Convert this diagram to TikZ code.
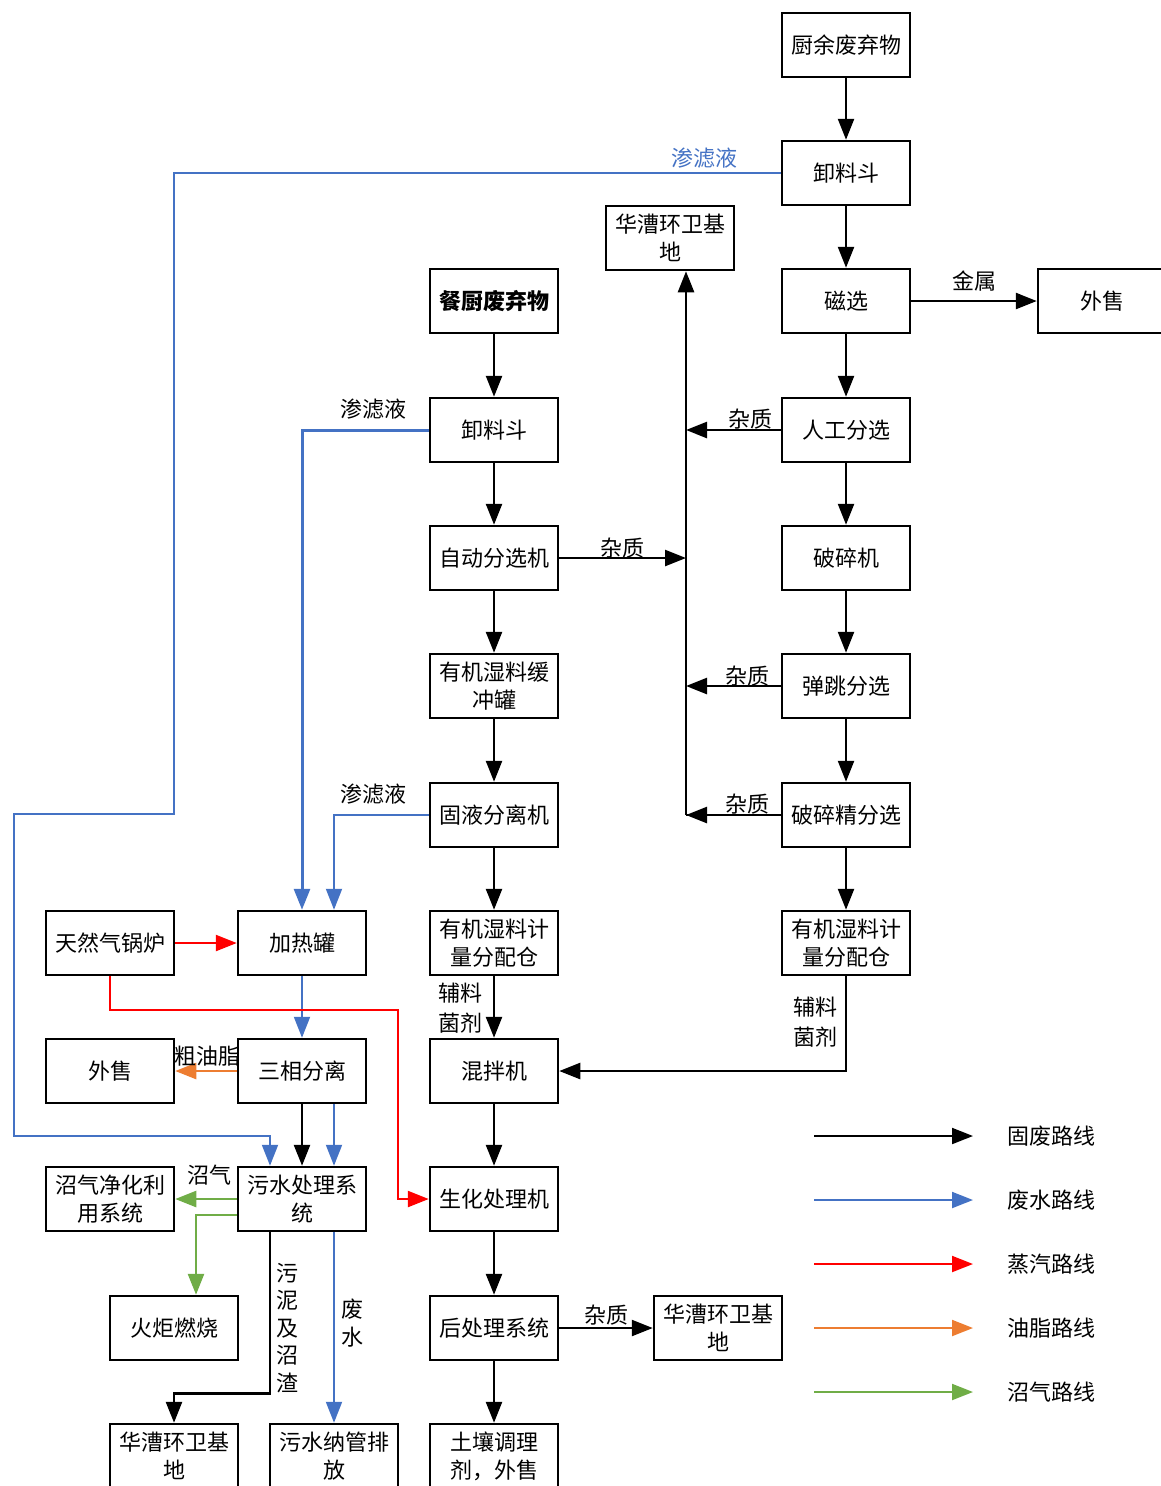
\documentclass[tikz,border=0pt]{standalone}
\usepackage{fontspec}
\setmainfont{Noto Sans CJK SC}
\usetikzlibrary{arrows.meta}
\definecolor{cblue}{HTML}{4472C4}
\definecolor{cred}{HTML}{FF0000}
\definecolor{corange}{HTML}{ED7D31}
\definecolor{cgreen}{HTML}{70AD47}
\begin{document}
\begin{tikzpicture}[x=1pt,y=-1pt,
  box/.style={draw, line width=2.5pt, minimum width=128pt, minimum height=64pt, inner sep=0pt, align=center, font=\fontsize{22}{28}\selectfont},
  lab/.style={inner sep=0pt, align=center, font=\fontsize{22}{28}\selectfont},
  fl/.style={-{Triangle[length=21pt,width=16pt]}, line width=2.5pt},
  wl/.style={fl, draw=cblue, line width=2pt},
  rl/.style={fl, draw=cred, line width=2.5pt},
  ol/.style={fl, draw=corange, line width=2.5pt},
  gl/.style={fl, draw=cgreen, line width=2.5pt}]
\useasboundingbox (0,0) rectangle (1161,1486);
% right column
\node[box] (cy) at (846,45) {厨余废弃物};
\node[box] (xl1) at (846,173) {卸料斗};
\node[box] (cx) at (846,301) {磁选};
\node[box] (rg) at (846,430) {人工分选};
\node[box] (psj) at (846,558) {破碎机};
\node[box] (tt) at (846,686) {弹跳分选};
\node[box] (psj2) at (846,815) {破碎精分选};
\node[box] (jl2) at (846,943) {有机湿料计\\量分配仓};
\node[box] (ws1) at (1102,301) {外售};
\node[box] (hc1) at (670,238) {华漕环卫基\\地};
% middle column
\node[box, font=\fontsize{22}{28}\selectfont\bfseries] (cc) at (494,301) {餐厨废弃物};
\node[box] (xl2) at (494,430) {卸料斗};
\node[box] (zd) at (494,558) {自动分选机};
\node[box] (hcg) at (494,686) {有机湿料缓\\冲罐};
\node[box] (gy) at (494,815) {固液分离机};
\node[box] (jl1) at (494,943) {有机湿料计\\量分配仓};
\node[box] (hb) at (494,1071) {混拌机};
\node[box] (sh) at (494,1199) {生化处理机};
\node[box] (hcl) at (494,1328) {后处理系统};
\node[box] (tr) at (494,1456) {土壤调理\\剂，外售};
\node[box] (hc2) at (718,1328) {华漕环卫基\\地};
% left columns
\node[box] (jr) at (302,943) {加热罐};
\node[box] (sx) at (302,1071) {三相分离};
\node[box] (wsc) at (302,1199) {污水处理系\\统};
\node[box] (tq) at (110,943) {天然气锅炉};
\node[box] (ws2) at (110,1071) {外售};
\node[box] (zq) at (110,1199) {沼气净化利\\用系统};
\node[box] (hj) at (174,1328) {火炬燃烧};
\node[box] (hc3) at (174,1456) {华漕环卫基\\地};
\node[box] (ng) at (334,1456) {污水纳管排\\放};

% right column flow
\draw[fl] (cy.south) -- (xl1.north);
\draw[fl] (xl1.south) -- (cx.north);
\draw[fl] (cx.south) -- (rg.north);
\draw[fl] (rg.south) -- (psj.north);
\draw[fl] (psj.south) -- (tt.north);
\draw[fl] (tt.south) -- (psj2.north);
\draw[fl] (psj2.south) -- (jl2.north);
\draw[fl] (cx.east) -- (ws1.west) node[lab, pos=0.5, above=8pt] {金属};
% impurity collector
\coordinate (vt) at (686,815);
\draw[line width=2.5pt] (psj2.west) -- (vt);
\draw[fl] (vt) -- (vt |- hc1.south);
\draw[fl] (rg.west) -- (rg.west -| vt);
\draw[fl] (tt.west) -- (tt.west -| vt);
\draw[fl] (psj2.west) -- (psj2.west -| vt);
\draw[fl] (zd.east) -- (zd.east -| vt);
\node[lab] (z1) at (750,419) {杂质};
\node[lab] (z2) at (747,676) {杂质};
\node[lab] (z3) at (747,804) {杂质};
\node[lab] (z4) at (622,548) {杂质};
% middle column flow
\draw[fl] (cc.south) -- (xl2.north);
\draw[fl] (xl2.south) -- (zd.north);
\draw[fl] (zd.south) -- (hcg.north);
\draw[fl] (hcg.south) -- (gy.north);
\draw[fl] (gy.south) -- (jl1.north);
\draw[fl] (jl1.south) -- (hb.north);
\draw[fl] (hb.south) -- (sh.north);
\draw[fl] (sh.south) -- (hcl.north);
\draw[fl] (hcl.south) -- (tr.north);
\draw[fl] (hcl.east) -- (hc2.west);
\node[lab] (z5) at (606,1315) {杂质};
\draw[fl] (jl2.south) |- (hb.east);
\node[lab, font=\fontsize{22}{30}\selectfont] (fj1) at (460,1008) {辅料\\菌剂};
\node[lab, font=\fontsize{22}{30}\selectfont] (fj2) at (815,1022) {辅料\\菌剂};
% leachate (blue)
\draw[wl] (xl1.west) -- (174,173) -- (174,814) -- (14,814) -- (14,1136) -- (270,1136) -- ([xshift=-32pt]wsc.north);
\node[lab, text=cblue] (sl1) at (704,158) {渗滤液};
\draw[wl, line width=3pt] (xl2.west) -| (jr.north);
\node[lab] (sl2) at (373,409) {渗滤液};
\draw[wl] (gy.west) -| ([xshift=32pt]jr.north);
\node[lab] (sl3) at (373,794) {渗滤液};
\draw[wl] (jr.south) -- (sx.north);
% steam
\draw[rl] (tq.east) -- (jr.west);
\draw[rl] (tq.south) -- (110,1010) -- (398,1010) |- (sh.west);
% oil
\draw[ol] (sx.west) -- (ws2.east);
\node[lab] (cy2) at (207,1056) {粗油脂};
% separation to sewage
\draw[fl] (sx.south) -- (wsc.north);
\draw[wl] ([xshift=32pt]sx.south) -- ([xshift=32pt]wsc.north);
% biogas
\draw[gl] (wsc.west) -- (zq.east);
\node[lab] (zqlab) at (209,1175) {沼气};
\draw[gl] ([yshift=-16pt]wsc.west) -| ([xshift=22pt]hj.north);
% sludge / wastewater
\draw[fl] ([xshift=-32pt]wsc.south) -- ++(0,161) -| (hc3.north);
\node[lab, font=\fontsize{22}{27.5}\selectfont] (wn) at (287,1328) {污\\泥\\及\\沼\\渣};
\draw[wl] ([xshift=32pt]wsc.south) -- (ng.north);
\node[lab] (fs) at (352,1323) {废\\水};
% legend
\coordinate (la1) at (814,1136); \coordinate (lb1) at (973,1136);
\coordinate (la2) at (814,1200); \coordinate (lb2) at (973,1200);
\coordinate (la3) at (814,1264); \coordinate (lb3) at (973,1264);
\coordinate (la4) at (814,1328); \coordinate (lb4) at (973,1328);
\coordinate (la5) at (814,1392); \coordinate (lb5) at (973,1392);
\draw[fl, line width=2pt] (la1) -- (lb1);
\draw[wl] (la2) -- (lb2);
\draw[rl, line width=2pt] (la3) -- (lb3);
\draw[ol, line width=2pt] (la4) -- (lb4);
\draw[gl, line width=2pt] (la5) -- (lb5);
\node[lab, anchor=west] (t1) at (1007,1136) {固废路线};
\node[lab, anchor=west] (t2) at (1007,1200) {废水路线};
\node[lab, anchor=west] (t3) at (1007,1264) {蒸汽路线};
\node[lab, anchor=west] (t4) at (1007,1328) {油脂路线};
\node[lab, anchor=west] (t5) at (1007,1392) {沼气路线};
\end{tikzpicture}
\end{document}
